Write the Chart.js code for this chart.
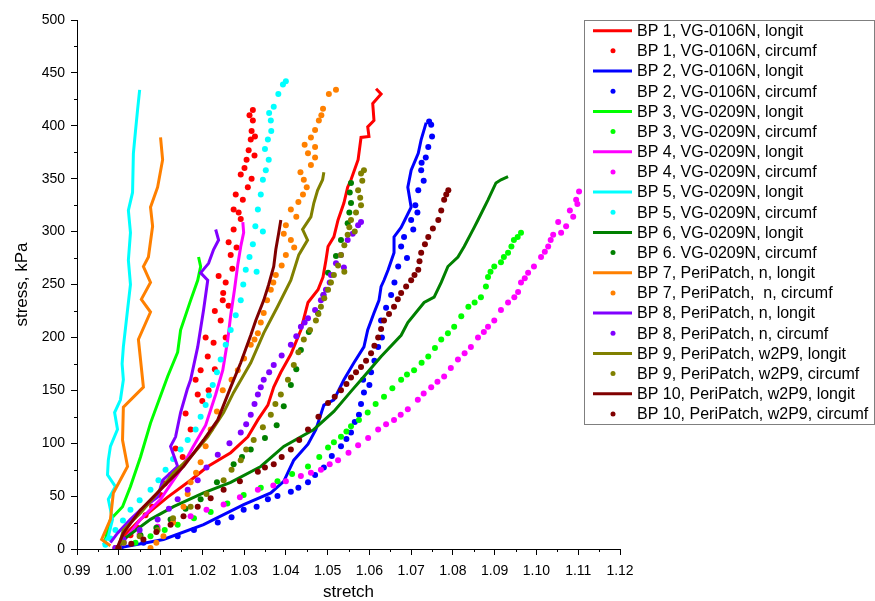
<!DOCTYPE html>
<html>
<head>
<title>Stress vs stretch</title>
<script src="https://cdn.jsdelivr.net/npm/chart.js"></script>
<style>
  body { margin: 0; background: #fff; }
  #wrap { width: 875px; height: 601px; }
</style>
</head>
<body>
<div id="wrap"><canvas id="chart" width="875" height="601"></canvas></div>
<script>
const FONT = "'Liberation Sans', Arial, sans-serif";

// [stretch, stress kPa]
const bp1Longit = [[0.9999,1],[1.0011,12],[1.0052,28],[1.0117,49],[1.0172,65],[1.0213,78],[1.0268,91],[1.0309,106],[1.0333,122],[1.0357,136],[1.0371,153],[1.0388,167],[1.0412,184],[1.0436,207],[1.0453,233],[1.0477,245],[1.0489,257],[1.0496,273],[1.0501,286],[1.0515,295],[1.0525,311],[1.0539,327],[1.0548,342],[1.0556,349],[1.0573,368],[1.0580,389],[1.0599,390],[1.0596,399],[1.0611,405],[1.0608,421],[1.0628,430],[1.0616,435]];
const bp1Circumf = [[0.9992,1],[1.0028,13],[1.0045,20],[1.0064,32],[1.0080,40],[1.0100,51],[1.0110,62],[1.0124,70],[1.0153,87],[1.0136,95],[1.0172,113],[1.0160,128],[1.0189,146],[1.0184,160],[1.0196,169],[1.0213,182],[1.0227,195],[1.0208,200],[1.0244,216],[1.0230,225],[1.0249,235],[1.0256,252],[1.0239,258],[1.0268,278],[1.0263,290],[1.0275,302],[1.0287,318],[1.0275,321],[1.0280,335],[1.0309,342],[1.0292,354],[1.0301,360],[1.0306,368],[1.0311,377],[1.0316,387],[1.0321,405],[1.0321,415],
  [1.0230,170],[1.0256,200],[1.0263,230],[1.0250,242],[1.0272,265],[1.0282,285],[1.0292,312],[1.0297,330],[1.0318,350],[1.0325,372],[1.0318,395],[1.0313,410],[1.0326,390],[1.0200,140],[1.0215,150]];
const bp2Longit = [[0.9999,1],[1.0107,9],[1.0203,23],[1.0299,42],[1.0364,53],[1.0395,64],[1.0419,84],[1.0453,99],[1.0472,113],[1.0491,136],[1.0515,141],[1.0539,160],[1.0563,176],[1.0587,191],[1.0596,207],[1.0611,223],[1.0623,235],[1.0628,248],[1.0635,254],[1.0645,264],[1.0659,280],[1.0659,295],[1.0676,304],[1.0700,323],[1.0692,342],[1.0700,358],[1.0717,374],[1.0724,387],[1.0736,403]];
const bp2Circumf = [[1.0004,1],[1.0059,6],[1.0141,12],[1.0237,25],[1.0299,37],[1.0357,47],[1.0412,54],[1.0453,63],[1.0491,77],[1.0532,97],[1.0556,110],[1.0575,127],[1.0587,148],[1.0585,160],[1.0604,167],[1.0621,191],[1.0628,216],[1.0652,240],[1.0669,267],[1.0676,286],[1.0683,295],[1.0700,311],[1.0717,339],[1.0724,358],[1.0741,380],[1.0748,401],[1.0743,404],
  [1.0180,18],[1.0270,30],[1.0330,40],[1.0380,50],[1.0430,58],[1.0470,70],[1.0510,88],[1.0545,104],[1.0565,120],[1.0580,137],[1.0600,155],[1.0612,178],[1.0630,200],[1.0640,228],[1.0660,252],[1.0690,275],[1.0705,302],[1.0710,325],[1.0730,348],[1.0735,370],[1.0750,390],[1.0725,365],[1.0715,318]];
const bp3Longit = [[0.9966,3],[0.9968,9],[0.9980,28],[1.0009,40],[1.0028,59],[1.0052,87],[1.0076,119],[1.0117,163],[1.0141,186],[1.0148,207],[1.0172,235],[1.0189,254],[1.0196,267],[1.0191,276]];
const bp3Circumf = [[0.9999,1],[1.0076,12],[1.0141,23],[1.0220,35],[1.0299,51],[1.0380,64],[1.0453,78],[1.0501,96],[1.0532,106],[1.0556,116],[1.0596,129],[1.0635,144],[1.0676,160],[1.0707,169],[1.0741,182],[1.0772,198],[1.0803,210],[1.0837,229],[1.0867,238],[1.0879,248],[1.0884,257],[1.0899,267],[1.0915,271],[1.0932,280],[1.0946,292],[1.0963,299],
  [1.0040,6],[1.0110,18],[1.0180,29],[1.0260,43],[1.0340,58],[1.0415,71],[1.0480,87],[1.0515,101],[1.0545,111],[1.0575,122],[1.0615,137],[1.0655,152],[1.0690,165],[1.0725,176],[1.0757,190],[1.0788,204],[1.0820,220],[1.0852,233],[1.0890,262],[1.0922,276],[1.0940,286],[1.0955,295]];
const bp4Longit = [[0.9999,1],[1.0052,28],[1.0100,47],[1.0148,75],[1.0177,96],[1.0208,117],[1.0232,146],[1.0249,169],[1.0261,198],[1.0268,221],[1.0277,245],[1.0285,269],[1.0292,286],[1.0299,299],[1.0297,309]];
const bp4Circumf = [[0.9999,1],[1.0012,6],[1.0093,21],[1.0172,31],[1.0251,42],[1.0333,56],[1.0400,64],[1.0436,69],[1.0484,75],[1.0525,84],[1.0573,98],[1.0621,113],[1.0659,122],[1.0692,132],[1.0716,141],[1.0748,153],[1.0779,163],[1.0812,179],[1.0843,191],[1.0884,210],[1.0899,216],[1.0915,226],[1.0932,233],[1.0956,243],[1.0963,252],[1.0980,261],[1.0994,267],[1.1011,276],[1.1028,286],[1.1040,297],[1.1059,299],[1.1052,309],[1.1071,305],[1.1088,314],[1.1095,330],[1.1102,338],
  [1.0050,14],[1.0130,26],[1.0210,37],[1.0290,49],[1.0370,60],[1.0460,72],[1.0505,80],[1.0550,91],[1.0597,105],[1.0640,118],[1.0675,127],[1.0730,147],[1.0763,158],[1.0795,171],[1.0828,185],[1.0860,200],[1.0874,205],[1.0947,238],[1.0972,256],[1.1020,281],[1.1034,292],[1.1080,320],[1.1098,326]];
const bp5Longit = [[0.9963,4],[0.9975,12],[0.9985,28],[0.9975,47],[0.9992,59],[0.9973,70],[0.9975,84],[0.9980,97],[0.9997,113],[0.9990,129],[1.0004,141],[1.0011,160],[1.0008,175],[1.0011,191],[1.0021,226],[1.0028,250],[1.0023,273],[1.0028,299],[1.0023,320],[1.0033,337],[1.0035,374],[1.0040,395],[1.0045,415],[1.0050,434]];
const bp5Circumf = [[0.9968,4],[0.9992,18],[1.0028,37],[1.0076,56],[1.0112,75],[1.0148,94],[1.0184,113],[1.0208,136],[1.0225,155],[1.0244,179],[1.0268,207],[1.0292,235],[1.0304,264],[1.0321,288],[1.0333,321],[1.0345,349],[1.0359,368],[1.0357,387],[1.0364,405],[1.0371,418],[1.0393,439],[1.0400,442],
  [0.9980,10],[1.0010,27],[1.0050,46],[1.0095,65],[1.0130,85],[1.0165,103],[1.0196,125],[1.0216,145],[1.0235,167],[1.0256,193],[1.0280,221],[1.0298,250],[1.0313,276],[1.0327,305],[1.0340,335],[1.0352,358],[1.0350,378],[1.0365,395],[1.0360,412],[1.0382,430],[1.0345,300],[1.0330,262]];
const bp6Longit = [[0.9999,1],[1.0011,9],[1.0076,28],[1.0131,40],[1.0203,53],[1.0268,63],[1.0340,78],[1.0395,97],[1.0467,113],[1.0515,130],[1.0556,149],[1.0587,163],[1.0628,182],[1.0676,202],[1.0692,214],[1.0731,233],[1.0755,238],[1.0772,252],[1.0788,267],[1.0812,276],[1.0827,286],[1.0851,304],[1.0860,311],[1.0884,330],[1.0903,346],[1.0915,349],[1.0932,352]];
const bp6Circumf = [[0.9999,1],[1.0052,13],[1.0124,28],[1.0196,47],[1.0275,80],[1.0316,94],[1.0378,117],[1.0412,155],[1.0436,188],[1.0477,223],[1.0501,261],[1.0532,292],[1.0548,308],[1.0556,327],[1.0556,346],
  [1.0090,20],[1.0160,38],[1.0235,63],[1.0295,87],[1.0350,105],[1.0395,135],[1.0425,170],[1.0455,205],[1.0490,240],[1.0520,277],[1.0552,318],[1.0553,337]];
const bp7Longit = [[0.9980,3],[0.9959,9],[0.9980,28],[0.9987,53],[1.0021,78],[1.0009,103],[1.0011,134],[1.0059,153],[1.0047,198],[1.0076,224],[1.0054,236],[1.0076,252],[1.0059,267],[1.0071,276],[1.0081,305],[1.0076,323],[1.0093,342],[1.0105,368],[1.0100,389]];
const bp7Circumf = [[1.0076,1],[1.0107,12],[1.0155,40],[1.0172,63],[1.0196,82],[1.0220,113],[1.0249,150],[1.0285,169],[1.0316,193],[1.0333,204],[1.0347,223],[1.0364,245],[1.0376,259],[1.0400,278],[1.0412,292],[1.0400,306],[1.0412,321],[1.0441,335],[1.0443,349],[1.0460,363],[1.0453,374],[1.0460,389],[1.0479,405],[1.0489,416],[1.0503,430],[1.0520,434],
  [1.0090,6],[1.0130,25],[1.0165,52],[1.0185,72],[1.0208,97],[1.0235,130],[1.0270,160],[1.0300,180],[1.0325,198],[1.0340,214],[1.0355,235],[1.0370,252],[1.0390,268],[1.0420,285],[1.0395,298],[1.0425,314],[1.0430,328],[1.0450,342],[1.0435,356],[1.0470,370],[1.0445,382],[1.0470,396],[1.0485,410],[1.0470,380]];
const bp8Longit = [[0.9980,6],[0.9997,15],[1.0028,28],[1.0052,37],[1.0093,49],[1.0105,65],[1.0141,78],[1.0124,97],[1.0136,106],[1.0148,129],[1.0164,151],[1.0172,160],[1.0189,191],[1.0203,226],[1.0213,254],[1.0196,261],[1.0215,270],[1.0227,283],[1.0239,292],[1.0232,302]];
const bp8Circumf = [[0.9992,1],[1.0011,9],[1.0093,28],[1.0141,47],[1.0189,65],[1.0237,89],[1.0292,110],[1.0316,127],[1.0333,146],[1.0347,160],[1.0371,174],[1.0412,193],[1.0436,210],[1.0453,218],[1.0484,235],[1.0496,245],[1.0508,259],[1.0539,266],[1.0532,278],[1.0548,292],[1.0573,306],[1.0580,309],
  [1.0050,18],[1.0120,38],[1.0165,56],[1.0210,77],[1.0265,100],[1.0305,118],[1.0325,137],[1.0340,153],[1.0360,167],[1.0390,183],[1.0425,201],[1.0445,214],[1.0470,226],[1.0490,240],[1.0505,252],[1.0520,270],[1.0560,298]];
const bp9Longit = [[0.9999,1],[1.0011,18],[1.0052,34],[1.0093,53],[1.0131,72],[1.0172,87],[1.0213,106],[1.0251,129],[1.0275,148],[1.0316,176],[1.0347,204],[1.0380,229],[1.0412,254],[1.0431,278],[1.0452,292],[1.0440,302],[1.0460,314],[1.0467,327],[1.0476,339],[1.0488,349],[1.0491,356]];
const bp9Circumf = [[0.9999,1],[1.0012,6],[1.0093,18],[1.0172,40],[1.0251,65],[1.0292,84],[1.0323,103],[1.0364,127],[1.0388,146],[1.0419,174],[1.0443,198],[1.0472,216],[1.0484,229],[1.0501,245],[1.0515,259],[1.0532,278],[1.0548,297],[1.0556,311],[1.0580,325],[1.0573,339],[1.0587,358],[1.0580,355],
  [1.0050,12],[1.0130,29],[1.0210,52],[1.0270,75],[1.0305,94],[1.0345,115],[1.0375,137],[1.0405,160],[1.0430,186],[1.0458,207],[1.0478,222],[1.0492,237],[1.0508,252],[1.0525,268],[1.0540,287],[1.0552,304],[1.0568,318],[1.0578,332],[1.0583,348],[1.0565,300],[1.0540,262]];
const bp10Longit = [[0.9997,2],[1.0011,15],[1.0052,37],[1.0107,59],[1.0155,78],[1.0203,103],[1.0237,122],[1.0268,153],[1.0292,176],[1.0316,202],[1.0328,216],[1.0347,235],[1.0359,250],[1.0371,267],[1.0376,283],[1.0383,299],[1.0388,311]];
const bp10Circumf = [[0.9999,1],[1.0059,9],[1.0124,23],[1.0189,40],[1.0251,56],[1.0333,73],[1.0371,80],[1.0412,94],[1.0453,113],[1.0501,138],[1.0532,150],[1.0556,162],[1.0580,172],[1.0604,185],[1.0621,200],[1.0635,216],[1.0659,229],[1.0676,242],[1.0700,254],[1.0717,264],[1.0724,280],[1.0741,295],[1.0765,311],[1.0779,330],[1.0789,339],
  [1.0030,5],[1.0090,16],[1.0155,31],[1.0220,48],[1.0290,64],[1.0350,77],[1.0390,87],[1.0432,103],[1.0478,125],[1.0517,144],[1.0545,156],[1.0568,167],[1.0592,178],[1.0612,192],[1.0628,208],[1.0647,222],[1.0668,236],[1.0688,248],[1.0708,259],[1.0720,272],[1.0733,288],[1.0752,303],[1.0772,320],[1.0784,335]];

const seriesLabels = [
  "BP 1, VG-0106N, longit", "BP 1, VG-0106N, circumf",
  "BP 2, VG-0106N, longit", "BP 2, VG-0106N, circumf",
  "BP 3, VG-0209N, longit", "BP 3, VG-0209N, circumf",
  "BP 4, VG-0209N, longit", "BP 4, VG-0209N, circumf",
  "BP 5, VG-0209N, longit", "BP 5, VG-0209N, circumf",
  "BP 6, VG-0209N, longit", "BP 6. VG-0209N, circumf",
  "BP 7, PeriPatch, n, longit", "BP 7, PeriPatch,  n, circumf",
  "BP 8, PeriPatch, n, longit", "BP 8, PeriPatch, n, circumf",
  "BP 9, PeriPatch, w2P9, longit", "BP 9, PeriPatch, w2P9, circumf",
  "BP 10, PeriPatch, w2P9, longit", "BP 10, PeriPatch, w2P9, circumf"
];
const bpColors = ["#ff0000", "#0000ff", "#00ff00", "#ff00ff", "#00ffff",
                  "#008000", "#ff8000", "#8000ff", "#808000", "#800000"];
const series = [bp1Longit, bp1Circumf, bp2Longit, bp2Circumf, bp3Longit, bp3Circumf,
                bp4Longit, bp4Circumf, bp5Longit, bp5Circumf, bp6Longit, bp6Circumf,
                bp7Longit, bp7Circumf, bp8Longit, bp8Circumf, bp9Longit, bp9Circumf,
                bp10Longit, bp10Circumf];

const datasets = series.map((pts, i) => {
  const isLine = i % 2 === 0;
  const color = bpColors[Math.floor(i / 2)];
  return {
    label: seriesLabels[i],
    data: pts.map(p => ({ x: p[0], y: p[1] })),
    showLine: isLine,
    borderColor: color,
    backgroundColor: color,
    borderWidth: isLine ? 3 : 0,
    pointRadius: isLine ? 0 : 3,
    pointBorderWidth: 0,
    tension: 0,
    order: series.length - i   // later series on top, like the original
  };
});

const isMajorX = v => Math.round(v * 1000) % 10 === 0;
const isMajorY = v => Math.round(v) % 50 === 0;

// short minor tick marks between the labelled ones
const minorTicks = {
  id: "minorTicks",
  afterDraw(chart) {
    const { ctx, scales: { x, y } } = chart;
    ctx.save();
    ctx.strokeStyle = "#000";
    ctx.lineWidth = 1;
    ctx.beginPath();
    x.ticks.forEach(t => {
      if (isMajorX(t.value)) return;
      const px = Math.round(x.getPixelForValue(t.value)) + 0.5;
      ctx.moveTo(px, x.top);
      ctx.lineTo(px, x.top + 3);
    });
    y.ticks.forEach(t => {
      if (isMajorY(t.value)) return;
      const py = Math.round(y.getPixelForValue(t.value)) + 0.5;
      ctx.moveTo(y.right, py);
      ctx.lineTo(y.right - 3, py);
    });
    ctx.stroke();
    ctx.restore();
  }
};

// boxed legend on the right
const legendBox = {
  id: "legendBox",
  afterDraw(chart) {
    const ctx = chart.ctx;
    ctx.save();
    ctx.strokeStyle = "#7f7f7f";
    ctx.lineWidth = 1;
    ctx.strokeRect(584.5, 20.5, 290, 404);
    ctx.font = "16px " + FONT;
    ctx.textBaseline = "middle";
    chart.data.datasets.forEach((ds, i) => {
      const yy = 30.7 + i * 20.17;
      if (ds.showLine) {
        ctx.strokeStyle = ds.borderColor;
        ctx.lineWidth = 3;
        ctx.beginPath();
        ctx.moveTo(593, yy);
        ctx.lineTo(632, yy);
        ctx.stroke();
      } else {
        ctx.fillStyle = ds.backgroundColor;
        ctx.beginPath();
        ctx.arc(613, yy, 2.5, 0, Math.PI * 2);
        ctx.fill();
      }
      ctx.fillStyle = "#000";
      ctx.fillText(ds.label, 637, yy + 1);
    });
    ctx.restore();
  }
};

new Chart(document.getElementById("chart"), {
  type: "scatter",
  data: { datasets },
  plugins: [minorTicks, legendBox],
  options: {
    responsive: false,
    animation: false,
    layout: { padding: { top: 20, right: 255, left: 0, bottom: 0 } },
    plugins: { legend: { display: false }, tooltip: { enabled: false } },
    scales: {
      x: {
        type: "linear",
        min: 0.99,
        max: 1.12,
        afterFit(scale) { scale.height = 52; },
        border: { color: "#000", width: 1 },
        grid: {
          drawOnChartArea: false,
          drawTicks: true,
          tickLength: 6,
          tickWidth: 1,
          tickColor: c => isMajorX(c.tick.value) ? "#000" : "rgba(0,0,0,0)"
        },
        ticks: {
          stepSize: 0.005,
          autoSkip: false,
          maxRotation: 0,
          padding: 8,
          color: "#000",
          font: { family: FONT, size: 14 },
          callback: v => isMajorX(v) ? v.toFixed(2) : ""
        },
        title: {
          display: true,
          text: "stretch",
          color: "#000",
          font: { family: FONT, size: 17, lineHeight: 1 },
          padding: { top: 0, bottom: 0 }
        }
      },
      y: {
        type: "linear",
        min: 0,
        max: 500,
        afterFit(scale) { scale.width = 77; },
        border: { color: "#000", width: 1 },
        grid: {
          drawOnChartArea: false,
          drawTicks: true,
          tickLength: 6,
          tickWidth: 1,
          tickColor: c => isMajorY(c.tick.value) ? "#000" : "rgba(0,0,0,0)"
        },
        ticks: {
          stepSize: 25,
          autoSkip: false,
          padding: 6,
          color: "#000",
          font: { family: FONT, size: 14 },
          callback: v => isMajorY(v) ? String(v) : ""
        },
        title: {
          display: true,
          text: "stress, kPa",
          color: "#000",
          font: { family: FONT, size: 17 },
          padding: { top: 12, bottom: 0 }
        }
      }
    }
  }
});
</script>
</body>
</html>
